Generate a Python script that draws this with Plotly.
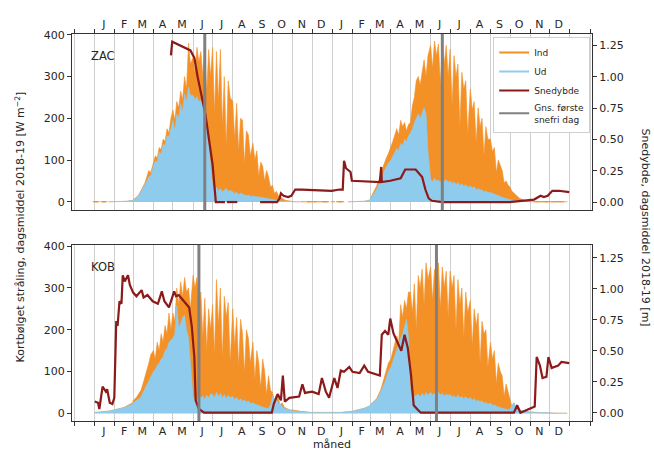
import plotly.graph_objects as go

# ---------------- data ----------------
YEARS = [2018, 2019]
SAMPLE_DAYS = [1, 4, 7, 10, 13, 16, 19, 22, 25, 28]   # sampled days in each month
MONTH_LETTERS = ["J", "F", "M", "A", "M", "J", "J", "A", "S", "O", "N", "D"]
N = None

# ZAC incoming shortwave (W m-2), 10 values per month, Jan 2018 .. Dec 2019 (None = no data)
zac_ind = [
    N, N, N, N, N, N, N, 0, 0, 0,
    0, 0, 0, 0, 0, 1, 1, 2, 2, 3,
    5, 8, 12, 18, 26, 35, 45, 60, 75, 70,
    95, 110, 105, 130, 125, 150, 145, 175, 165, 200,
    220, 195, 240, 225, 265, 245, 300, 270, 380, 330,
    345, 310, 370, 335, 360, 300, 372, 260, 365, 300,
    370, 210, 360, 240, 365, 180, 300, 130, 290, 250,
    240, 150, 236, 120, 200, 195, 90, 170, 160, 110,
    140, 100, 122, 60, 95, 85, 50, 75, 60, 35,
    40, 20, 25, 15, 12, 8, 5, 3, 2, 1,
    0, 0, 0, 0, 0, N, N, N, N, N,
    N, N, N, N, N, N, N, N, N, N,
    # 2019
    N, N, N, N, N, N, N, N, 0, 0,
    0, 0, 0, 0, 0, 1, 1, 2, 3, 4,
    10, 18, 28, 38, 50, 62, 80, 95, 105, 115,
    130, 145, 160, 175, 160, 195, 180, 190, 170, 185,
    190, 230, 250, 290, 300, 280, 310, 340, 300, 350,
    375, 320, 385, 350, 378, 280, 380, 330, 375, 300,
    365, 230, 350, 300, 330, 180, 310, 270, 290, 160,
    270, 220, 240, 140, 225, 180, 200, 110, 180, 150,
    150, 120, 130, 70, 100, 85, 75, 45, 50, 40,
    35, 25, 20, 15, 12, 8, 6, 4, 2, 1,
    0, 0, 0, 0, 0, 0, 0, 0, 0, 0,
    0, 0, 0, 0, 0, 0, 0, 0, 0, 0,
]
# ZAC reflected shortwave (W m-2)
zac_ud = [
    N, N, N, N, N, N, N, 0, 0, 0,
    0, 0, 0, 0, 0, 1, 1, 2, 2, 3,
    5, 7, 11, 16, 24, 32, 40, 50, 60, 62,
    85, 98, 95, 118, 115, 138, 135, 158, 155, 178,
    195, 172, 210, 200, 235, 215, 258, 240, 275, 255,
    255, 245, 252, 240, 242, 230, 215, 180, 130, 90,
    40, 30, 35, 26, 32, 24, 28, 32, 25, 27,
    24, 20, 23, 17, 21, 18, 16, 15, 16, 13,
    14, 13, 12, 12, 11, 10, 9, 8, 7, 6,
    5, 4, 3, 3, 2, 2, 1, 1, 1, 0,
    0, 0, 0, 0, 0, N, N, N, N, N,
    N, N, N, N, N, N, N, N, N, N,
    # 2019
    N, N, N, N, N, N, N, N, 0, 0,
    0, 0, 0, 0, 0, 1, 1, 2, 3, 4,
    8, 14, 22, 30, 40, 50, 62, 75, 85, 92,
    100, 110, 120, 128, 122, 140, 135, 150, 145, 158,
    165, 175, 190, 200, 210, 200, 215, 225, 210, 120,
    55, 48, 56, 50, 52, 46, 55, 49, 53, 47,
    50, 44, 48, 41, 46, 39, 43, 37, 41, 35,
    38, 33, 36, 29, 32, 28, 29, 24, 26, 22,
    22, 20, 18, 16, 15, 12, 10, 9, 8, 6,
    5, 4, 3, 2, 2, 1, 1, 1, 0, 0,
    0, 0, 0, 0, 0, 0, 0, 0, 0, 0,
    0, 0, 0, 0, 0, 0, 0, 0, 0, 0,
]
# ZAC isolated winter values of incoming radiation (near 0)
zac_winter_dates = [
    "2018-01-01", "2018-01-03", "2018-01-05", "2018-01-13", "2018-01-15", "2018-01-17",
    "2018-11-17", "2018-11-24", "2018-11-26", "2018-11-28", "2018-12-02", "2018-12-05",
    "2018-12-08", "2018-12-13", "2018-12-18", "2018-12-20", "2018-12-22", "2018-12-24",
    "2019-01-02", "2019-01-10", "2019-01-12", "2019-01-14", "2019-01-16",
    "2019-11-10", "2019-11-14", "2019-11-20", "2019-11-25", "2019-11-28", "2019-12-05",
    "2019-12-10", "2019-12-15", "2019-12-20",
]
zac_winter_ind = [0] * 6 + [0] * 12 + [0] * 5 + [0] * 9

# KOB incoming shortwave (W m-2)
kob_ind = [
    2, 2, 3, 3, 4, 4, 5, 5, 6, 7,
    8, 9, 10, 12, 13, 15, 17, 20, 22, 25,
    30, 35, 40, 48, 55, 70, 85, 100, 120, 140,
    150, 130, 170, 150, 190, 170, 210, 190, 240, 200,
    240, 220, 300, 260, 315, 280, 325, 290, 300, 250,
    330, 300, 325, 240, 290, 180, 275, 150, 250, 200,
    260, 140, 320, 210, 300, 130, 280, 230, 265, 120,
    250, 160, 230, 110, 225, 190, 95, 200, 180, 120,
    170, 80, 150, 120, 60, 130, 100, 45, 90, 55,
    50, 30, 45, 35, 20, 25, 15, 12, 10, 8,
    8, 7, 6, 5, 5, 4, 4, 3, 3, 2,
    2, 2, 2, 1, 1, 1, 1, 1, 1, 1,
    # 2019
    1, 1, 1, 2, 2, 2, 3, 3, 4, 4,
    5, 6, 7, 8, 9, 10, 12, 14, 16, 18,
    22, 25, 30, 35, 45, 55, 70, 85, 100, 120,
    130, 150, 170, 185, 170, 260, 230, 270, 250, 290,
    290, 240, 310, 200, 330, 300, 345, 260, 360, 320,
    350, 270, 345, 310, 360, 250, 350, 300, 340, 230,
    340, 300, 330, 200, 320, 260, 300, 180, 290, 240,
    270, 160, 250, 210, 240, 120, 220, 190, 200, 110,
    170, 130, 150, 70, 120, 100, 90, 40, 70, 50,
    30, 15, 25, 12, 10, 8, 6, 5, 4, 3,
    3, 3, 2, 2, 2, 1, 1, 1, 1, 1,
    1, 1, 0, 0, 0, 0, 0, 0, 0, 0,
]
# KOB reflected shortwave (W m-2)
kob_ud = [
    2, 2, 3, 3, 4, 4, 5, 5, 6, 7,
    8, 9, 10, 11, 12, 14, 16, 18, 20, 22,
    25, 28, 30, 35, 40, 50, 60, 70, 80, 90,
    100, 105, 115, 120, 130, 135, 150, 155, 170, 175,
    180, 190, 258, 205, 215, 230, 235, 200, 180, 120,
    40, 33, 30, 46, 36, 42, 33, 44, 36, 47,
    45, 38, 50, 40, 48, 37, 45, 36, 43, 38,
    40, 33, 38, 30, 35, 29, 32, 27, 30, 24,
    25, 22, 20, 18, 16, 15, 14, 12, 12, 20,
    40, 35, 30, 25, 20, 15, 12, 10, 8, 7,
    6, 5, 5, 4, 4, 3, 3, 3, 2, 2,
    2, 2, 1, 1, 1, 1, 1, 1, 1, 1,
    # 2019
    1, 1, 1, 2, 2, 2, 3, 3, 4, 4,
    5, 6, 7, 8, 9, 10, 12, 14, 16, 18,
    22, 25, 28, 33, 40, 50, 62, 72, 85, 100,
    110, 125, 140, 155, 165, 180, 190, 210, 225, 180,
    55, 44, 40, 43, 46, 39, 48, 41, 50, 44,
    50, 44, 48, 43, 50, 44, 48, 41, 46, 43,
    45, 39, 42, 37, 44, 37, 40, 35, 40, 34,
    38, 31, 35, 29, 32, 27, 30, 24, 26, 22,
    24, 20, 20, 17, 16, 14, 12, 11, 10, 9,
    10, 20, 25, 15, 10, 8, 6, 5, 4, 3,
    3, 2, 2, 2, 1, 1, 1, 1, 1, 1,
    1, 1, 0, 0, 0, 0, 0, 0, 0, 0,
]

# Snow depth (m), read at breakpoints
zac_snow_dates = [
    "2018-04-28", "2018-04-30", "2018-05-28", "2018-06-03", "2018-06-08", "2018-06-20",
    "2018-07-01", "2018-07-06", "2018-07-20", "2018-07-21", "2018-07-23", "2018-08-08",
    "2018-08-09", "2018-09-12", "2018-10-08",
    "2018-10-12", "2018-10-14", "2018-10-18", "2018-10-25", "2018-10-30", "2018-11-05",
    "2018-11-15", "2018-12-31",
    "2019-01-12", "2019-01-17", "2019-01-19", "2019-01-22", "2019-01-29", "2019-01-31",
    "2019-03-15", "2019-03-17", "2019-03-18", "2019-03-31", "2019-04-16", "2019-04-23",
    "2019-05-09", "2019-05-14", "2019-05-19", "2019-05-24", "2019-05-29", "2019-06-03",
    "2019-06-19", "2019-09-30", "2019-11-07", "2019-11-17", "2019-11-22", "2019-11-28",
    "2019-12-05", "2019-12-15", "2019-12-31",
]
zac_snow = [
    1.17, 1.28, 1.21, 1.15, 1.00, 0.70,
    0.30, 0.00, 0.00, None, 0.00, 0.00,
    None, 0.00, 0.00,
    0.03, 0.07, 0.05, 0.04, 0.05, 0.10,
    0.10, 0.09,
    0.10, 0.10, 0.33, 0.27, 0.24, 0.17,
    0.16, 0.28, 0.16, 0.17, 0.19, 0.26,
    0.26, 0.23, 0.20, 0.10, 0.03, 0.01,
    0.00, 0.00, 0.02, 0.05, 0.04, 0.05,
    0.09, 0.09, 0.08,
]
kob_snow_dates = [
    "2018-01-01", "2018-01-06", "2018-01-08", "2018-01-13", "2018-01-18", "2018-01-20",
    "2018-01-24", "2018-01-28", "2018-01-31", "2018-02-03", "2018-02-05", "2018-02-08",
    "2018-02-11", "2018-02-13", "2018-02-16", "2018-02-21", "2018-02-24", "2018-03-01",
    "2018-03-06", "2018-03-14", "2018-03-17", "2018-03-23", "2018-03-31", "2018-04-08",
    "2018-04-14", "2018-04-18", "2018-04-25", "2018-05-03", "2018-05-06", "2018-05-10",
    "2018-05-18", "2018-05-26", "2018-05-30", "2018-06-03", "2018-06-05", "2018-06-10",
    "2018-06-18", "2018-09-30", "2018-10-03", "2018-10-09", "2018-10-14", "2018-10-17",
    "2018-10-20", "2018-10-27", "2018-11-11", "2018-11-16", "2018-11-20", "2018-12-01",
    "2018-12-11", "2018-12-16", "2018-12-22", "2018-12-27",
    "2019-01-04", "2019-01-09", "2019-01-14", "2019-01-19", "2019-01-27", "2019-02-01",
    "2019-02-12", "2019-02-19", "2019-02-25", "2019-03-15", "2019-03-18", "2019-03-23",
    "2019-03-28", "2019-03-31", "2019-04-05", "2019-04-12", "2019-04-17", "2019-04-22",
    "2019-04-27", "2019-05-02", "2019-05-06", "2019-05-13", "2019-05-17", "2019-10-07",
    "2019-10-12", "2019-10-17", "2019-11-04", "2019-11-08", "2019-11-11", "2019-11-16",
    "2019-11-20", "2019-11-26", "2019-11-29", "2019-12-04", "2019-12-14", "2019-12-19",
    "2019-12-31",
]
kob_snow = [
    0.09, 0.08, 0.03, 0.21, 0.17, 0.19,
    0.08, 0.07, 0.12, 0.74, 0.70, 0.90,
    0.88, 1.11, 1.06, 1.11, 1.03, 0.97,
    0.94, 0.99, 0.93, 0.95, 0.90, 0.88,
    0.98, 0.90, 0.85, 0.98, 0.94, 0.95,
    0.90, 0.85, 0.70, 0.45, 0.10, 0.03,
    0.00, 0.00, 0.07, 0.15, 0.10, 0.30,
    0.09, 0.12, 0.13, 0.23, 0.16, 0.17,
    0.15, 0.28, 0.17, 0.12,
    0.28, 0.20, 0.34, 0.33, 0.37, 0.33,
    0.32, 0.38, 0.33, 0.30, 0.63, 0.66,
    0.63, 0.76, 0.64, 0.56, 0.50, 0.63,
    0.52, 0.30, 0.06, 0.02, 0.00, 0.00,
    0.06, 0.00, 0.04, 0.05, 0.45, 0.38,
    0.28, 0.29, 0.45, 0.36, 0.38, 0.41,
    0.40,
]

# Average first snow-free day
zac_snowfree = ["2018-06-19", "2019-06-19"]
kob_snowfree = ["2018-06-10", "2019-06-10"]

# ---------------- styling ----------------
C_IND = "#f39026"
C_UD = "#8ecbec"
C_SNOW = "#8b1a1a"
C_FREE = "#808080"
FONT = "DejaVu Sans"
TXT = "#262626"

dates = [f"{y}-{m:02d}-{d:02d}" for y in YEARS for m in range(1, 13) for d in SAMPLE_DAYS]
month_starts = [f"{y}-{m:02d}-01" for y in (2017, 2018, 2019, 2020) for m in range(1, 13)
                if "2017-12-01" <= f"{y}-{m:02d}-01" <= "2020-02-01"]
month_mids = [f"{y}-{m:02d}-15" for y in YEARS for m in range(1, 13)]
mid_text = MONTH_LETTERS * len(YEARS)

fig = go.Figure()


def add_station(ind, ud, sdates, snow, xa, ya, ya2):
    fig.add_trace(go.Scatter(x=dates, y=ind, mode="lines", fill="tozeroy", connectgaps=False,
                             line=dict(color=C_IND, width=0.6), fillcolor=C_IND,
                             showlegend=False, xaxis=xa, yaxis=ya, hoverinfo="skip"))
    fig.add_trace(go.Scatter(x=dates, y=ud, mode="lines", fill="tozeroy", connectgaps=False,
                             line=dict(color=C_UD, width=0.6), fillcolor=C_UD,
                             showlegend=False, xaxis=xa, yaxis=ya, hoverinfo="skip"))
    fig.add_trace(go.Scatter(x=sdates, y=snow, mode="lines", connectgaps=False,
                             line=dict(color=C_SNOW, width=2.2),
                             showlegend=False, xaxis=xa, yaxis=ya2, hoverinfo="skip"))


add_station(zac_ind, zac_ud, zac_snow_dates, zac_snow, "x", "y", "y3")
fig.add_trace(go.Scatter(x=zac_winter_dates, y=zac_winter_ind, mode="markers",
                         marker=dict(symbol="line-ew", size=3, color=C_IND,
                                     line=dict(color=C_IND, width=1)),
                         showlegend=False, xaxis="x", yaxis="y", hoverinfo="skip"))
add_station(kob_ind, kob_ud, kob_snow_dates, kob_snow, "x2", "y2", "y4")

# legend entries
for name, col in [("Ind", C_IND), ("Ud", C_UD), ("Snedybde", C_SNOW),
                  ("Gns. første<br>snefri dag", C_FREE)]:
    fig.add_trace(go.Scatter(x=[None], y=[None], mode="lines", name=name,
                             line=dict(color=col, width=2), xaxis="x", yaxis="y"))

for d in zac_snowfree:
    fig.add_shape(type="line", x0=d, x1=d, y0=0, y1=1, xref="x", yref="y domain",
                  line=dict(color=C_FREE, width=3))
for d in kob_snowfree:
    fig.add_shape(type="line", x0=d, x1=d, y0=0, y1=1, xref="x2", yref="y2 domain",
                  line=dict(color=C_FREE, width=3))

XR = ["2017-11-27", "2020-02-04"]
common_x = dict(type="date", range=XR, tickmode="array", tickvals=month_mids, ticktext=mid_text,
                ticks="", showgrid=False, zeroline=False, showline=True, mirror=True,
                linecolor="#333333", linewidth=1.3, automargin=False,
                tickfont=dict(family=FONT, size=11, color=TXT),
                minor=dict(tickmode="array", tickvals=month_starts, ticks="outside", ticklen=4,
                           tickcolor="#333333", tickwidth=1, showgrid=True,
                           gridcolor="#cfcfcf", gridwidth=1))
common_yl = dict(tickmode="array", tickvals=[0, 100, 200, 300, 400], ticks="outside", ticklen=4,
                 tickcolor="#333333", showgrid=False, zeroline=False, showline=True, mirror=True,
                 linecolor="#333333", linewidth=1.3, automargin=False,
                 tickfont=dict(family=FONT, size=11, color=TXT))
common_yr = dict(tickmode="array", tickvals=[0, 0.25, 0.5, 0.75, 1.0, 1.25], tickformat=".2f",
                 ticks="outside", ticklen=4, tickcolor="#333333", showgrid=False, zeroline=False,
                 showline=False, side="right", automargin=False,
                 tickfont=dict(family=FONT, size=11, color=TXT))

fig.update_layout(
    width=654, height=452,
    margin=dict(l=72, r=62, t=34, b=31),
    paper_bgcolor="white", plot_bgcolor="white",
    font=dict(family=FONT, color=TXT),
    xaxis=dict(common_x, domain=[0, 1], anchor="y", side="top"),
    xaxis2=dict(common_x, domain=[0, 1], anchor="y2", side="bottom", matches="x",
                title=dict(text="måned", font=dict(family=FONT, size=11, color=TXT), standoff=0)),
    yaxis=dict(common_yl, domain=[0.545, 1], anchor="x", range=[-20, 402]),
    yaxis2=dict(common_yl, domain=[0, 0.455], anchor="x2", range=[-18.5, 403]),
    yaxis3=dict(common_yr, overlaying="y", anchor="x", range=[-0.064, 1.341]),
    yaxis4=dict(common_yr, overlaying="y2", anchor="x2", range=[-0.067, 1.355]),
    legend=dict(x=0.81, y=0.992, xanchor="left", yanchor="top", bgcolor="white",
                bordercolor="#d0d0d0", borderwidth=1,
                font=dict(family=FONT, size=9, color=TXT), itemwidth=30,
                tracegroupgap=0),
    showlegend=True,
)

fig.add_annotation(text="ZAC", x=0.033, y=0.943, xref="paper", yref="paper", showarrow=False,
                   xanchor="left", yanchor="middle", font=dict(family=FONT, size=11.5, color=TXT))
fig.add_annotation(text="KOB", x=0.033, y=0.398, xref="paper", yref="paper", showarrow=False,
                   xanchor="left", yanchor="middle", font=dict(family=FONT, size=11.5, color=TXT))
fig.add_annotation(text="Kortbølget stråling, dagsmiddel 2018-19 [W m<sup>−2</sup>]",
                   x=-0.1, y=0.5, xref="paper", yref="paper", showarrow=False, textangle=-90,
                   xanchor="center", yanchor="middle", font=dict(family=FONT, size=11, color=TXT))
fig.add_annotation(text="Snedybde, dagsmiddel 2018-19 [m]",
                   x=1.102, y=0.5, xref="paper", yref="paper", showarrow=False, textangle=90,
                   xanchor="center", yanchor="middle", font=dict(family=FONT, size=11, color=TXT))

fig.write_html("out.html", config={"displayModeBar": False},
               post_script="document.body.style.margin='0';document.body.style.padding='0';")
